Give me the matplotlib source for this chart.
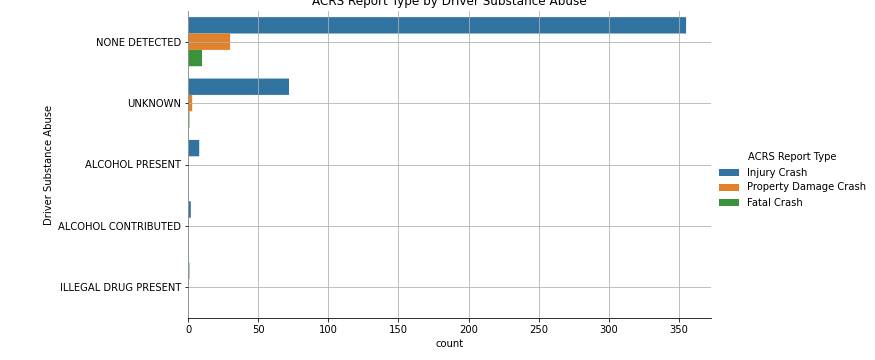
import matplotlib
matplotlib.use("Agg")
import matplotlib.pyplot as plt
import numpy as np

categories = ["NONE DETECTED", "UNKNOWN", "ALCOHOL PRESENT", "ALCOHOL CONTRIBUTED", "ILLEGAL DRUG PRESENT"]
series_names = ["Injury Crash", "Property Damage Crash", "Fatal Crash"]
injury = [355, 72, 8, 2, 1]
property_damage = [30, 3, 0, 0, 0]
fatal = [10, 1, 0, 0, 0]
colors = ["#3274a1", "#e1812c", "#3a923a"]

dpi = 72
fig = plt.figure(figsize=(875 / dpi, 360 / dpi), dpi=dpi)
ax = fig.add_axes([188 / 875, 1 - 318 / 360, (711 - 188) / 875, (318 - 11) / 360])

y = np.arange(len(categories))
h = 0.8 / 3
for i, (vals, name) in enumerate(zip([injury, property_damage, fatal], series_names)):
    ax.barh(y - 0.4 + h * (i + 0.5), vals, height=h, color=colors[i], label=name,
            snap=False)

ax.set_yticks(y)
ax.set_yticklabels(categories)
ax.set_ylim(len(categories) - 0.5, -0.5)
ax.set_xticks(np.arange(0, 351, 50))
ax.set_xlim(0, max(injury) * 1.05)
ax.grid(True, color="#b0b0b0", linewidth=0.8)
ax.set_axisbelow(False)
for s in ["top", "right"]:
    ax.spines[s].set_visible(False)
ax.set_xlabel("count")
ax.set_ylabel("Driver Substance Abuse")
ax.set_title("ACRS Report Type by Driver Substance Abuse", fontsize=12)

handles, labels = ax.get_legend_handles_labels()
fig.legend(handles, labels, title="ACRS Report Type", loc="center left",
           bbox_to_anchor=(710 / 875, 0.5), frameon=False)

fig.savefig("out.png", dpi=dpi)
